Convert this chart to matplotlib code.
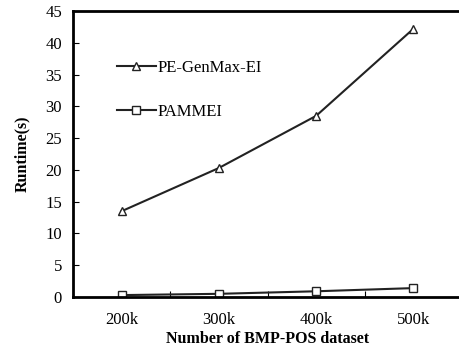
import matplotlib.pyplot as plt
import matplotlib as mpl
import numpy as np

mpl.rcParams.update({
    'font.family': 'serif',
    'font.serif': ['Liberation Serif', 'DejaVu Serif'],
    'font.size': 12,
})

# ---------- Data ----------
datasets = ['200k', '300k', '400k', '500k']
pe_genmax = [13.5, 20.3, 28.5, 42.2]
pammei = [0.3, 0.5, 0.9, 1.4]

fig = plt.figure(figsize=(4.59, 3.49), dpi=100)
# right edge sits just past the figure border, as in the reference
ax = fig.add_axes([73 / 459, 52 / 349, 389 / 459, 286 / 349])

x = np.arange(1, len(datasets) + 1)
ax.plot(x, pe_genmax, color='#222222', lw=1.5, marker='^', ms=6,
        mfc='white', mec='#222222', mew=1.0, label='PE-GenMax-EI')
ax.plot(x, pammei, color='#222222', lw=1.5, marker='s', ms=6,
        mfc='white', mec='#222222', mew=1.0, label='PAMMEI')

ax.set_xlim(0.5, 4.5)
ax.set_ylim(0, 45)
ax.set_yticks(np.arange(0, 46, 5))

# category ticks at boundaries, labels at centres
ax.set_xticks(x)
ax.set_xticklabels(datasets)
ax.tick_params(axis='x', which='major', length=0, pad=11)
ax.set_xticks([1.5, 2.5, 3.5], minor=True)
ax.tick_params(axis='x', which='minor', direction='in', length=4, width=0.8)
ax.tick_params(axis='y', direction='in', length=4, width=0.8, pad=8)

for s in ['left', 'bottom', 'top']:
    ax.spines[s].set_linewidth(2)
ax.spines['right'].set_visible(False)

ax.set_xlabel('Number of BMP-POS dataset', fontweight='bold', fontsize=11.5, labelpad=2)
ax.set_ylabel('Runtime(s)', fontweight='bold', fontsize=11.5, labelpad=11)

ax.legend(loc='upper left', bbox_to_anchor=(0.075, 0.88), frameon=False,
          labelspacing=1.65, handlelength=2.3, handletextpad=0.15)

fig.savefig('out.png', dpi=100, facecolor='white')
